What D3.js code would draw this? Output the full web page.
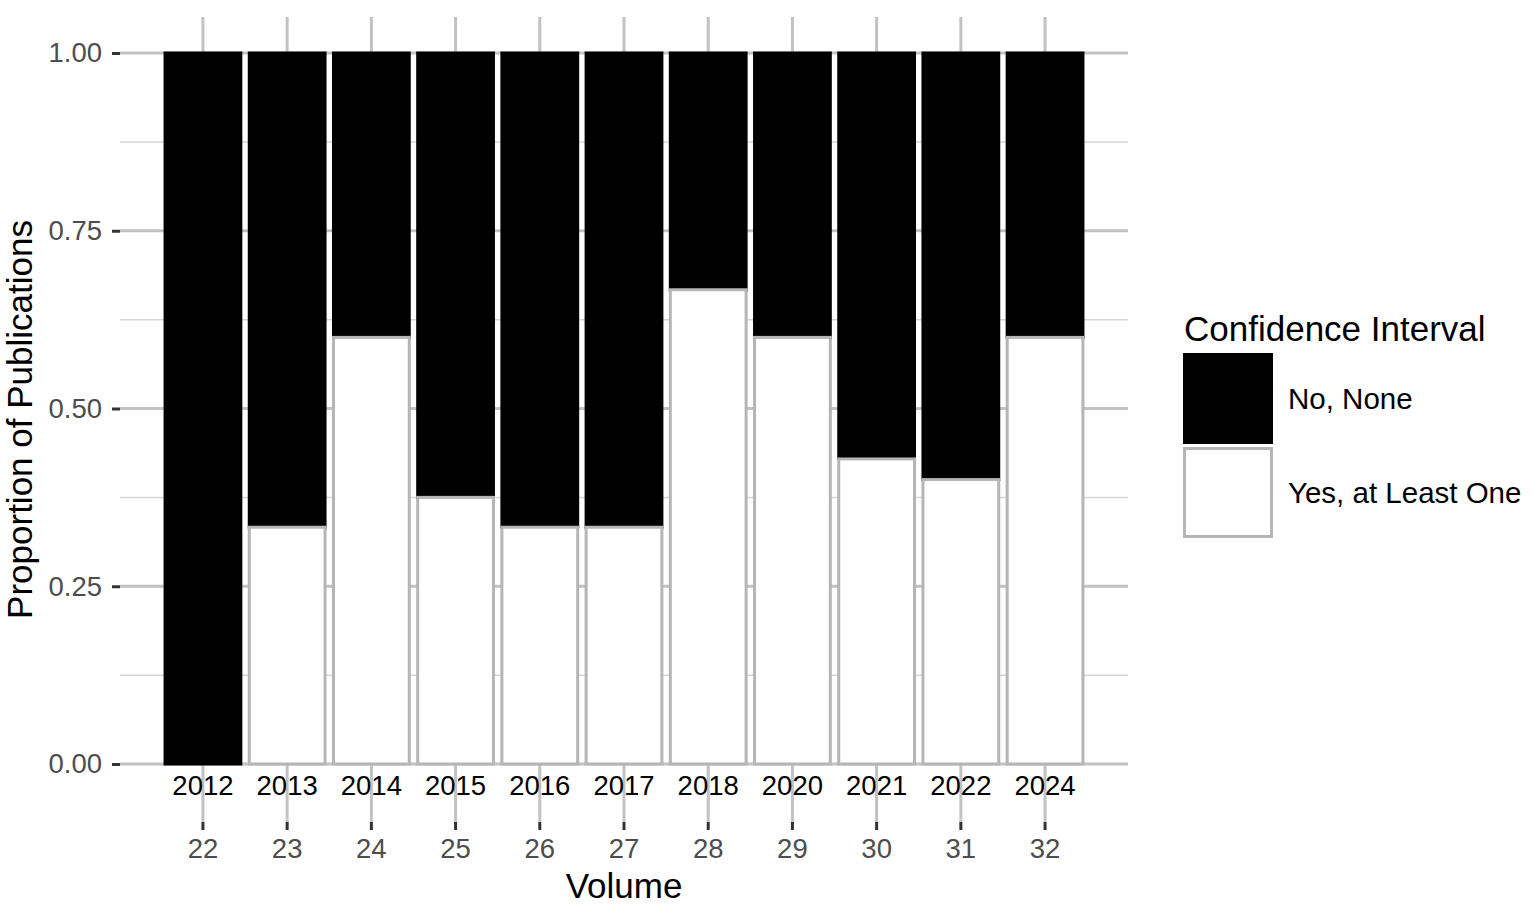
<!DOCTYPE html>
<html>
<head>
<meta charset="utf-8">
<script src="https://cdn.jsdelivr.net/npm/d3@7"></script>
<style>
  body { margin: 0; background: #fff; }
  svg { display: block; font-family: 'Liberation Sans', Arial, sans-serif; }
</style>
</head>
<body>
<svg id="chart" width="1535" height="908"></svg>
<script>
// values
const years = ['2012', '2013', '2014', '2015', '2016', '2017', '2018', '2020', '2021', '2022', '2024']
const volumes = ['22', '23', '24', '25', '26', '27', '28', '29', '30', '31', '32']
const yesShare = [0, 0.333, 0.6, 0.375, 0.333, 0.333, 0.667, 0.6, 0.429, 0.4, 0.6]
const noShare = [1, 0.667, 0.4, 0.625, 0.667, 0.667, 0.333, 0.4, 0.571, 0.6, 0.4]
const groups = ['Yes, at Least One', 'No, None']
const legendOrder = ['No, None', 'Yes, at Least One']
const yTicks = [0, 0.25, 0.5, 0.75, 1]
const yMinor = [0.125, 0.375, 0.625, 0.875]

const fills = { 'No, None': '#000', 'Yes, at Least One': '#fff' }
const strokes = { 'No, None': '#000', 'Yes, at Least One': '#b5b5b5' }

const svg = d3.select('#chart')

const panel = { left: 120, right: 1128, top: 17, bottom: 822 }

const x = d3
  .scaleBand()
  .domain(years)
  .range([panel.left, panel.right])
  .paddingInner(0.1)
  .paddingOuter(0.535)

const y = d3.scaleLinear().domain([0, 1]).range([764, 53])

const rows = years.map((yr, i) => ({
  year: yr,
  'Yes, at Least One': yesShare[i],
  'No, None': noShare[i],
}))

const series = d3.stack().keys(groups)(rows)

// grid
const grid = svg.append('g')
grid
  .selectAll('.minor')
  .data(yMinor)
  .enter()
  .append('line')
  .attr('x1', panel.left)
  .attr('x2', panel.right)
  .attr('y1', d => y(d))
  .attr('y2', d => y(d))
  .attr('stroke', '#d6d6d6')
  .attr('stroke-width', 1.5)

grid
  .selectAll('.major')
  .data(yTicks)
  .enter()
  .append('line')
  .attr('x1', panel.left)
  .attr('x2', panel.right)
  .attr('y1', d => y(d))
  .attr('y2', d => y(d))
  .attr('stroke', '#c2c2c2')
  .attr('stroke-width', 3)

grid
  .selectAll('.vert')
  .data(years)
  .enter()
  .append('line')
  .attr('x1', d => x(d) + x.bandwidth() / 2)
  .attr('x2', d => x(d) + x.bandwidth() / 2)
  .attr('y1', panel.top)
  .attr('y2', panel.bottom)
  .attr('stroke', '#c2c2c2')
  .attr('stroke-width', 3)

// bars, black first so the grey outlines sit on top
const drawOrder = ['No, None', 'Yes, at Least One']
drawOrder.forEach(key => {
  const s = series.find(e => e.key === key)
  svg
    .append('g')
    .selectAll('rect')
    .data(s)
    .enter()
    .filter(d => d[1] - d[0] > 0)
    .append('rect')
    .attr('x', d => x(d.data.year))
    .attr('width', x.bandwidth())
    .attr('y', d => y(d[1]))
    .attr('height', d => y(d[0]) - y(d[1]))
    .attr('fill', fills[key])
    .attr('stroke', strokes[key])
    .attr('stroke-width', 3)
})

// y axis
const yAxis = svg
  .append('g')
  .attr('transform', `translate(${panel.left},0)`)
  .call(
    d3.axisLeft(y).tickValues(yTicks).tickFormat(d3.format('.2f')).tickSize(8).tickPadding(10)
  )
yAxis.select('.domain').remove()
yAxis.selectAll('line').attr('stroke', '#333').attr('stroke-width', 3)
yAxis.selectAll('text').attr('fill', '#4d4d4d').attr('font-size', '27.5px').attr('font-family', null)

// year labels just under the bars
const yearAxis = svg
  .append('g')
  .attr('transform', `translate(0,${y(0)})`)
  .call(d3.axisBottom(x).tickSize(0).tickPadding(11))
yearAxis.select('.domain').remove()
yearAxis.selectAll('text').attr('fill', '#000').attr('font-size', '27.5px').attr('font-family', null)

// volume axis
const volAxis = svg
  .append('g')
  .attr('transform', `translate(0,${panel.bottom})`)
  .call(
    d3
      .axisBottom(x)
      .tickSize(8)
      .tickPadding(8)
      .tickFormat(d => volumes[years.indexOf(d)])
  )
volAxis.select('.domain').remove()
volAxis.selectAll('line').attr('stroke', '#333').attr('stroke-width', 3)
volAxis.selectAll('text').attr('fill', '#4d4d4d').attr('font-size', '27.5px').attr('font-family', null)

// titles
svg
  .append('text')
  .text('Volume')
  .attr('x', (panel.left + panel.right) / 2)
  .attr('y', 898)
  .attr('text-anchor', 'middle')
  .attr('font-size', '35px')
  .attr('fill', '#000')

svg
  .append('text')
  .text('Proportion of Publications')
  .attr('transform', `translate(32,${(panel.top + panel.bottom) / 2}) rotate(-90)`)
  .attr('text-anchor', 'middle')
  .attr('font-size', '35px')
  .attr('fill', '#000')

// legend
const legend = svg.append('g').attr('transform', 'translate(1183, 0)')

legend
  .append('text')
  .text('Confidence Interval')
  .attr('x', 1)
  .attr('y', 341)
  .attr('font-size', '35px')
  .attr('fill', '#000')

legendOrder.forEach((key, i) => {
  const top = 354.5 + i * 94
  legend
    .append('rect')
    .attr('x', 1.5)
    .attr('y', top)
    .attr('width', 87)
    .attr('height', 88)
    .attr('fill', fills[key])
    .attr('stroke', strokes[key])
    .attr('stroke-width', 3)
  legend
    .append('text')
    .text(key)
    .attr('x', 105)
    .attr('y', top + 44 + 10.5)
    .attr('font-size', '29.5px')
    .attr('fill', '#000')
})
</script>
</body>
</html>
